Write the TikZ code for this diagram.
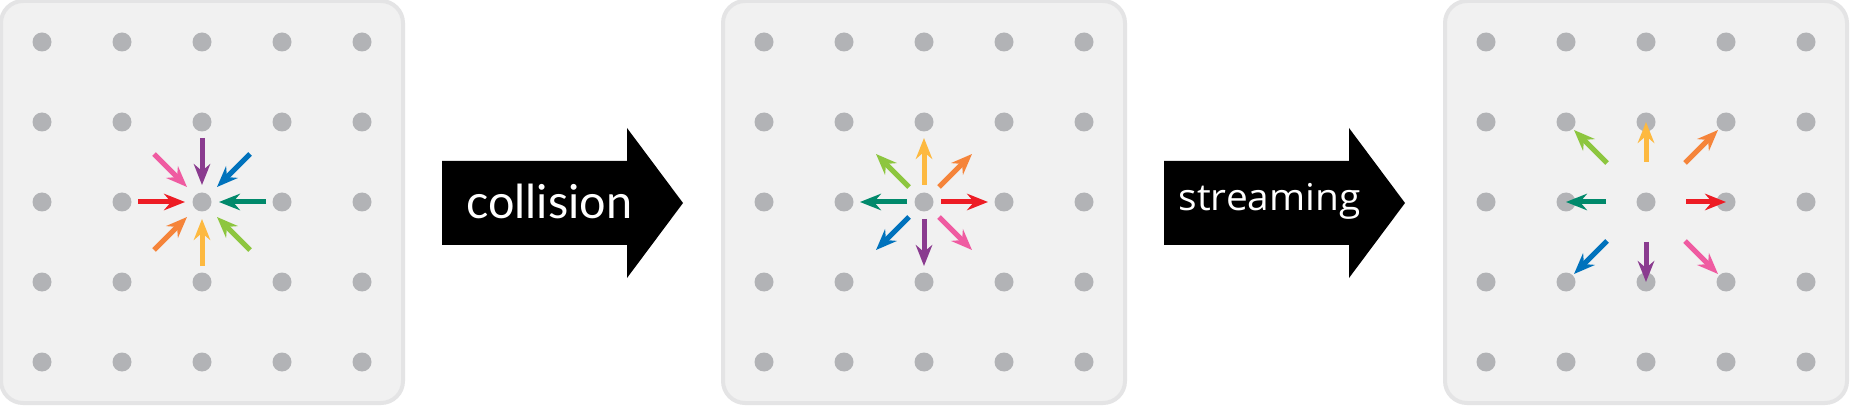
\documentclass[tikz,border=0pt]{standalone}
\usepackage{fontspec}
\newfontfamily\colfont{Lato}
\newfontfamily\strfont{Open Sans}
\usetikzlibrary{arrows.meta,calc}
\definecolor{panelfill}{HTML}{F1F1F1}
\definecolor{panelborder}{HTML}{E4E4E5}
\definecolor{dotgray}{HTML}{B2B3B6}
\definecolor{cpurple}{HTML}{8A3B8F}
\definecolor{cpink}{HTML}{EF5BA1}
\definecolor{cblue}{HTML}{0072BC}
\definecolor{cred}{HTML}{ED1C24}
\definecolor{cteal}{HTML}{00896B}
\definecolor{corange}{HTML}{F5843A}
\definecolor{cyellow}{HTML}{FDB940}
\definecolor{clgreen}{HTML}{8DC63F}
\tikzset{
  panel/.style={fill=panelfill, draw=panelborder, line width=4pt, rounded corners=22pt},
  latdot/.style={circle, fill=dotgray, minimum size=19pt, inner sep=0pt},
  vel/.style={line width=5pt, -{Stealth[length=21pt,width=16.5pt,inset=7pt]}},
  bigarrow/.style={fill=black},
  steplabel/.style={anchor=base west, text=white, inner sep=0pt},
}
\begin{document}
\begin{tikzpicture}[x=1pt,y=-1pt]
\useasboundingbox (0,0) rectangle (1850,406);
\fill[white] (0,0) rectangle (1850,406);
% panels and lattice dots
\foreach \P/\cx in {1/202, 2/924, 3/1646} {
  \draw[panel] (\cx-201,1) rectangle (\cx+201,403);
  \foreach \i in {0,...,4} {
    \foreach \j in {0,...,4} {
      \node[latdot] (d\P-\i-\j) at (\cx-160+80*\i, 42+80*\j) {};
    }
  }
}
% velocity arrows
\foreach \col/\dx/\dy in {cpurple/0/1, cpink/1/1, cblue/-1/1, cred/1/0, cteal/-1/0, corange/1/-1, cyellow/0/-1, clgreen/-1/-1} {
  \pgfmathsetmacro\fa{(\dx*\dx+\dy*\dy==2) ? 48 : 64}
  \pgfmathsetmacro\fb{(\dx*\dx+\dy*\dy==2) ? 15 : 17}
  % panel 1: incoming
  \coordinate (t1-\col) at ($(d1-2-2.center)+(-\fa*\dx,-\fa*\dy)$);
  \coordinate (h1-\col) at ($(d1-2-2.center)+(-\fb*\dx,-\fb*\dy)$);
  \draw[vel,\col] (t1-\col) -- (h1-\col);
  % panel 2: outgoing after collision
  \coordinate (t2-\col) at ($(d2-2-2.center)+(\fb*\dx,\fb*\dy)$);
  \coordinate (h2-\col) at ($(d2-2-2.center)+(\fa*\dx,\fa*\dy)$);
  \draw[vel,\col] (t2-\col) -- (h2-\col);
  % panel 3: after streaming
  \pgfmathsetmacro\ga{(\dx*\dx+\dy*\dy==2) ? 39 : 40}
  \pgfmathsetmacro\gb{(\dx*\dx+\dy*\dy==2) ? 72 : 80}
  \coordinate (t3-\col) at ($(d3-2-2.center)+(\ga*\dx,\ga*\dy)$);
  \coordinate (h3-\col) at ($(d3-2-2.center)+(\gb*\dx,\gb*\dy)$);
  \draw[vel,\col] (t3-\col) -- (h3-\col);
}
% big step arrows
\fill[bigarrow] (442,161) -- (627,161) -- (627,128) -- (683,203) -- (627,278) -- (627,245) -- (442,245) -- cycle;
\fill[bigarrow] (1164,161) -- (1349,161) -- (1349,128) -- (1405,203) -- (1349,278) -- (1349,245) -- (1164,245) -- cycle;
\node[steplabel, font=\colfont\fontsize{46.8}{50}\selectfont] (lcoll) at (466,218.5) {collision};
\node[steplabel, xscale=1.05, font=\strfont\fontsize{37}{40}\selectfont] (lstream) at (1178.5,211) {streaming};
\end{tikzpicture}
\end{document}
